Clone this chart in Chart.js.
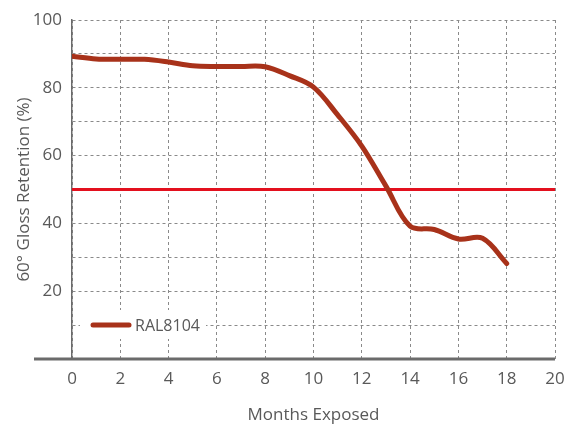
<!DOCTYPE html>
<html>
<head>
<meta charset="utf-8">
<script src="https://cdn.jsdelivr.net/npm/chart.js@4"></script>
<style>
  html, body { margin: 0; padding: 0; background: #fff; }
  #wrap { width: 566px; height: 425px; }
</style>
</head>
<body>
<div id="wrap"><canvas id="glossChart" width="566" height="425"></canvas></div>
<script>
var months = [0, 1, 2, 3, 4, 5, 6, 7, 8, 9, 10, 11, 12, 13, 14, 15, 16, 17, 18];
var retention = [89.3, 88.5, 88.4, 88.4, 87.6, 86.5, 86.3, 86.3, 86.2, 83.6, 80.2, 72, 62.8, 51, 39.2, 38.2, 35.4, 35.6, 28.2];
var targetMonths = [0, 20];
var targetLevel = [50, 50];
var seriesName = "RAL8104";
var xTitle = "Months Exposed";
var yTitle = "60° Gloss Retention (%)";

var textGray = "#595959";
var curveColor = "#a8321a";

function pairs(xs, ys) {
    return xs.map(function (x, i) { return { x: x, y: ys[i] }; });
}

// long x axis line + in-plot legend box
var extras = {
    id: "extras",
    beforeDatasetsDraw: function (chart) {
        var c = chart.ctx;
        c.save();
        c.fillStyle = "#fff";
        c.fillRect(80, 310, 126, 29);
        c.strokeStyle = curveColor;
        c.lineWidth = 5;
        c.lineCap = "round";
        c.beginPath();
        c.moveTo(93, 325);
        c.lineTo(129, 325);
        c.stroke();
        c.fillStyle = textGray;
        c.font = "16px 'Open Sans'";
        c.textBaseline = "middle";
        c.fillText(seriesName, 135, 326);
        c.restore();
    },
    afterDraw: function (chart) {
        var c = chart.ctx, area = chart.chartArea;
        var y0 = chart.scales.y.getPixelForValue(0);
        c.save();
        c.strokeStyle = "#6b6b6b";
        c.lineWidth = 3;
        c.beginPath();
        c.moveTo(34, y0);
        c.lineTo(area.right, y0);
        c.stroke();
        c.restore();
    }
};

var ctx = document.getElementById("glossChart");
var myChart = new Chart(ctx, {
    type: "line",
    data: {
        datasets: [{
            label: seriesName,
            data: pairs(months, retention),
            borderColor: curveColor,
            backgroundColor: curveColor,
            borderWidth: 5,
            borderCapStyle: "round",
            borderJoinStyle: "round",
            pointRadius: 0,
            tension: 0.35,
            fill: false
        }, {
            label: "limit",
            data: pairs(targetMonths, targetLevel),
            borderColor: "#e3101e",
            borderWidth: 3,
            pointRadius: 0,
            tension: 0,
            fill: false
        }]
    },
    options: {
        responsive: false,
        animation: false,
        devicePixelRatio: 1,
        layout: { padding: { top: 20, right: 11, left: 0, bottom: 0 } },
        plugins: {
            legend: { display: false },
            tooltip: { enabled: false }
        },
        scales: {
            x: {
                type: "linear",
                min: 0,
                max: 20,
                ticks: {
                    stepSize: 2,
                    color: textGray,
                    font: { family: "'Open Sans'", size: 17 },
                    padding: 10
                },
                grid: {
                    color: "#8a8a8a",
                    lineWidth: 1,
                    drawTicks: false
                },
                border: { display: false, dash: [3, 3] },
                title: {
                    display: true,
                    text: xTitle,
                    color: textGray,
                    font: { family: "'Open Sans'", size: 17 },
                    padding: { top: 8, bottom: 0 }
                },
                afterFit: function (scale) {
                    scale.height = 66;
                    scale.paddingLeft = 0;
                    scale.paddingRight = 0;
                }
            },
            y: {
                min: 0,
                max: 100,
                ticks: {
                    stepSize: 10,
                    color: textGray,
                    font: { family: "'Open Sans'", size: 17 },
                    padding: 10,
                    callback: function (v) { return (v % 20 === 0 && v > 0) ? v : ""; }
                },
                grid: {
                    color: function (c) { return c.tick.value === 0 ? "rgba(0,0,0,0)" : "#8a8a8a"; },
                    lineWidth: 1,
                    drawTicks: false
                },
                border: { display: true, color: "#6b6b6b", width: 1.5, dash: [3, 3] },
                title: {
                    display: true,
                    text: yTitle,
                    color: textGray,
                    font: { family: "'Open Sans'", size: 17 },
                    padding: { top: 14, bottom: 0 }
                },
                afterFit: function (scale) {
                    scale.width = 72;
                    scale.paddingTop = 0;
                    scale.paddingBottom = 0;
                }
            }
        }
    },
    plugins: [extras]
});
</script>
</body>
</html>
